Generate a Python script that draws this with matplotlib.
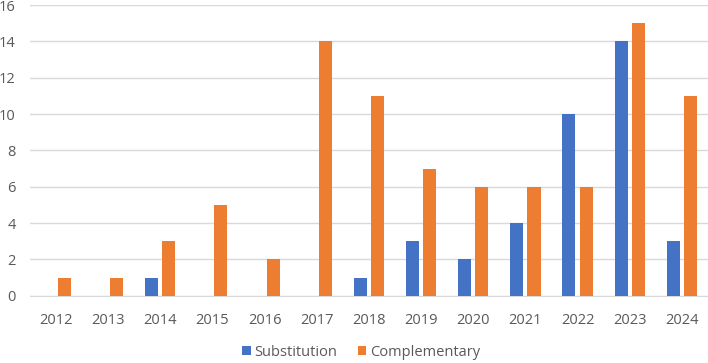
import matplotlib
matplotlib.use("Agg")

import matplotlib.pyplot as plt
import numpy as np

years = ["2012", "2013", "2014", "2015", "2016", "2017", "2018",
         "2019", "2020", "2021", "2022", "2023", "2024"]
substitution = [0, 0, 1, 0, 0, 0, 1, 3, 2, 4, 10, 14, 3]
complementary = [1, 1, 3, 5, 2, 14, 11, 7, 6, 6, 6, 15, 11]

BLUE = "#4472C4"
ORANGE = "#ED7D31"
TEXT = "#595959"

plt.rcParams["font.family"] = ["Open Sans", "DejaVu Sans"]

fig = plt.figure(figsize=(7.08, 3.63), dpi=100)
ax = fig.add_axes([0.042, 0.185, 0.958, 0.801])

x = np.arange(len(years))
w = 0.25
ax.bar(x - 0.165, substitution, w, color=BLUE, label="Substitution", zorder=3)
ax.bar(x + 0.165, complementary, w, color=ORANGE, label="Complementary", zorder=3)

ax.set_xlim(-0.5, len(years) - 0.5)
ax.set_ylim(0, 16)
ax.set_yticks(range(0, 17, 2))
ax.set_xticks(x)
ax.set_xticklabels(years)
ax.tick_params(axis="both", length=0, labelsize=10.5, colors=TEXT)
ax.tick_params(axis="x", pad=12)
ax.tick_params(axis="y", pad=10)
ax.grid(axis="y", color="#D9D9D9", linewidth=1, zorder=0)
for s in ["top", "right", "left"]:
    ax.spines[s].set_visible(False)
ax.spines["bottom"].set_color("#D9D9D9")

fig.legend(loc="center", bbox_to_anchor=(0.51, 0.03), ncol=2, frameon=False,
           fontsize=10.5, labelcolor=TEXT, handlelength=0.6, handleheight=0.6,
           handletextpad=0.25, columnspacing=1.4)

fig.savefig("out.png", dpi=100)
